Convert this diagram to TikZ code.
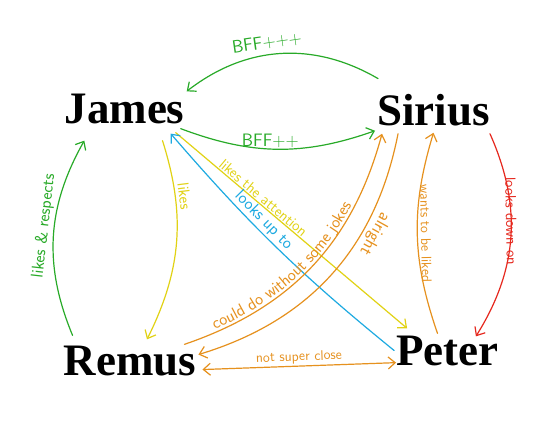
\documentclass[tikz,border=0pt]{standalone}
\usepackage{fontspec}
\newfontfamily\namefont{Liberation Serif}
\usetikzlibrary{arrows.meta, decorations.text}

\definecolor{hpgreen}{RGB}{40,170,40}
\definecolor{hpyellow}{RGB}{225,210,20}
\definecolor{hpblue}{RGB}{30,170,225}
\definecolor{hporange}{RGB}{230,145,30}
\definecolor{hpred}{RGB}{230,40,30}

\begin{document}
\begin{tikzpicture}[x=1pt, y=1pt,
    namebox/.style={inner sep=2pt, anchor=base,
        font=\namefont\bfseries\fontsize{45}{45}\selectfont},
    arrow/.style={->, line width=1.2pt, line cap=round,
        >={Straight Barb[length=7pt,width=12pt]}},
    lbl/.style={inner sep=1pt, font=\sffamily\fontsize{#1}{#1}\selectfont},
    lbl/.default=15
]
\fill[white] (0,0) rectangle (540,-424);
% the four names
\node[namebox] (james)  at (124.5,-123) {James};
\node[namebox] (sirius) at (433.5,-125) {Sirius};
\node[namebox] (remus)  at (130,-375)   {Remus};
\node[namebox] (peter)  at (447.5,-365) {Peter};
% green
\draw[arrow, hpgreen] ([shift={(-6pt,-3pt)}]james.south east) to[bend right=20]
    node[lbl=18, pos=0.46, above=0pt] {BFF++} ([yshift=-3pt]sirius.south west);
\draw[arrow, hpgreen] ([shift={(3pt,13pt)}]sirius.north west) to[bend right=34]
    node[lbl=18, pos=0.56, sloped, above=4pt] {BFF+++} (james.north east);
\draw[arrow, hpgreen] ([shift={(11pt,8pt)}]remus.north west) to[bend left=26]
    node[lbl=17, pos=0.55, sloped, above=1pt] {likes \& respects}
    ([shift={(22pt,-15pt)}]james.south west);
% yellow
\draw[arrow, hpyellow] ([shift={(38pt,-15pt)}]james.south) to[bend left=22]
    node[lbl=16, pos=0.27, sloped, allow upside down, above=2pt] {likes}
    ([shift={(17pt,4pt)}]remus.north);
\draw[arrow, hpyellow] ([shift={(-11pt,-7pt)}]james.south east) --
    node[lbl, pos=0.36, sloped, above=0pt] {likes the attention}
    ([shift={(13pt,5pt)}]peter.north west);
% blue
\draw[arrow, hpblue] (peter.west) to[bend left=5]
    node[lbl=17, pos=0.6, sloped, above=1pt] {looks up to}
    ([shift={(-16pt,-8pt)}]james.south east);
% orange
\draw[arrow, hporange, postaction={decorate, decoration={text along path,
        text={|\sffamily\fontsize{17}{17}\selectfont|could do without some jokes},
        text color=hporange, text align={left, left indent=34pt}, raise=3pt}}]
    ([shift={(-14pt,-1pt)}]remus.north east) to[bend right=28]
    ([shift={(7pt,-6pt)}]sirius.south west);
\draw[arrow, hporange] ([shift={(23pt,-6pt)}]sirius.south west) to[bend left=31]
    node[lbl=18, pos=0.31, sloped, allow upside down, above=2pt] {alright}
    ([yshift=6pt]remus.east);
\draw[arrow, <-, hporange] ([yshift=-5pt]sirius.south) to[bend right=18]
    node[lbl=14, midway, sloped, allow upside down, above=2pt] {wants to be liked}
    ([xshift=-10pt]peter.north);
\draw[arrow, <->, hporange] ([shift={(4pt,-9pt)}]remus.east) --
    node[lbl=14, sloped, above=1pt] {not super close}
    ([shift={(2pt,5pt)}]peter.south west);
% red
\draw[arrow, hpred] ([shift={(-2pt,-6pt)}]sirius.south east) to[bend left=28]
    node[lbl, pos=0.42, sloped, allow upside down] {looks down on}
    ([shift={(-25pt,-3pt)}]peter.north east);
\end{tikzpicture}
\end{document}
